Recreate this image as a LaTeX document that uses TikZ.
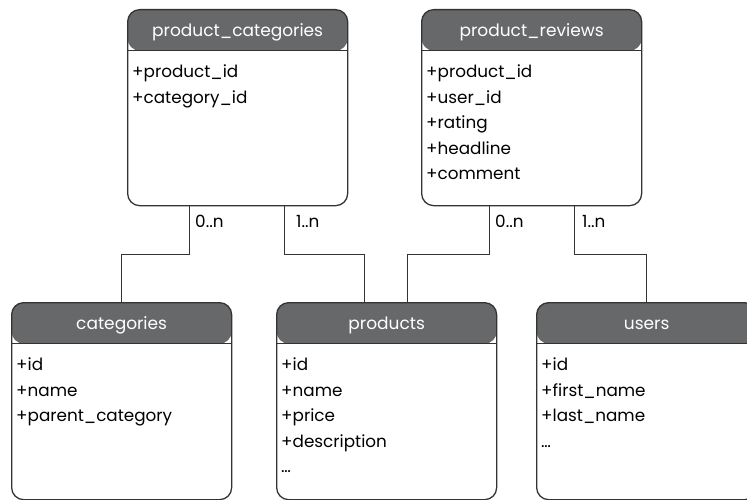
\documentclass[tikz,border=0pt]{standalone}
\usepackage{fontspec}
\setmainfont{Poppins}
\usepackage{tikz}
\usetikzlibrary{positioning,calc}
\definecolor{HeadGray}{HTML}{67686A}
\definecolor{LineGray}{HTML}{333333}

\begin{document}
\begin{tikzpicture}[
  x=1pt, y=-1pt,
  tbl/.style={draw=LineGray, line width=1.3pt, rounded corners=12pt, fill=white,
    minimum width=220pt, anchor=north west, inner sep=0pt,
    path picture={\fill[HeadGray] (path picture bounding box.north west) rectangle
      ([yshift=-41pt]path picture bounding box.north east);
      \draw[LineGray, line width=1.3pt] ([yshift=-41pt]path picture bounding box.north west) --
      ([yshift=-41pt]path picture bounding box.north east);}},
  title/.style={text=white, font=\fontsize{17}{19}\selectfont, anchor=center},
  fields/.style={align=left, anchor=north west, inner sep=0pt,
    font=\fontsize{16.8}{25.5}\selectfont},
  card/.style={font=\fontsize{16.8}{19}\selectfont, anchor=north west, inner sep=0pt},
  link/.style={draw=LineGray, line width=1pt}
]
\useasboundingbox (0,0) rectangle (747,500);

% top tables
\node[tbl, minimum height=196pt] (pcat) at (127,9) {};
\node[title] (pcatT) at ($(pcat.north)+(0,23)$) {product\_categories};
\node[fields] (pcatF) at ($(pcat.north west)+(5,56)$) {+product\_id\\+category\_id};

\node[tbl, minimum height=196pt] (prev) at (421,9) {};
\node[title] (prevT) at ($(prev.north)+(0,23)$) {product\_reviews};
\node[fields] (prevF) at ($(prev.north west)+(5,56)$) {+product\_id\\+user\_id\\+rating\\+headline\\+comment};

% bottom tables
\node[tbl, minimum height=197pt] (cat) at (11,302) {};
\node[title] (catT) at ($(cat.north)+(0,23)$) {categories};
\node[fields] (catF) at ($(cat.north west)+(5,56)$) {+id\\+name\\+parent\_category};

\node[tbl, minimum height=197pt] (prod) at (276,302) {};
\node[title] (prodT) at ($(prod.north)+(0,23)$) {products};
\node[fields] (prodF) at ($(prod.north west)+(5,56)$) {+id\\+name\\+price\\+description\\\dots};

\node[tbl, minimum height=197pt] (usr) at (536,302) {};
\node[title] (usrT) at ($(usr.north)+(0,23)$) {users};
\node[fields] (usrF) at ($(usr.north west)+(5,56)$) {+id\\+first\_name\\+last\_name\\\dots};

% connectors
\coordinate (jy) at (0,254);
\draw[link] (pcat.south -| 189,0) |- (jy -| cat.north) -- (cat.north);
\draw[link] (pcat.south -| 284,0) |- (jy -| 364,0) -- (prod.north -| 364,0);
\draw[link] (prev.south -| 489,0) |- (jy -| 407,0) -- (prod.north -| 407,0);
\draw[link] (prev.south -| 574,0) |- (jy -| usr.north) -- (usr.north);

% cardinalities
\node[card] (c1) at (195,215) {0..n};
\node[card] (c2) at (296,215) {1..n};
\node[card] (c3) at (495,215) {0..n};
\node[card] (c4) at (582,215) {1..n};
\end{tikzpicture}
\end{document}
